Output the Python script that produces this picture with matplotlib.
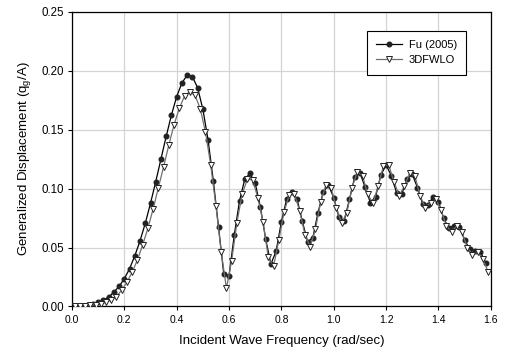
import numpy as np
import matplotlib
matplotlib.use('Agg')
import matplotlib.pyplot as plt
from matplotlib.ticker import FormatStrFormatter

plt.rcParams['font.family'] = ['Liberation Sans', 'DejaVu Sans']

# Fu (2005) - frequences paires
freq_fu = [0.02, 0.04, 0.06, 0.08, 0.10, 0.12, 0.14, 0.16, 0.18, 0.20,
           0.22, 0.24, 0.26, 0.28, 0.30, 0.32, 0.34, 0.36, 0.38, 0.40,
           0.42, 0.44, 0.46, 0.48, 0.50, 0.52, 0.54, 0.56, 0.58, 0.60,
           0.62, 0.64, 0.66, 0.68, 0.70, 0.72, 0.74, 0.76, 0.78, 0.80,
           0.82, 0.84, 0.86, 0.88, 0.90, 0.92, 0.94, 0.96, 0.98, 1.00,
           1.02, 1.04, 1.06, 1.08, 1.10, 1.12, 1.14, 1.16, 1.18, 1.20,
           1.22, 1.24, 1.26, 1.28, 1.30, 1.32, 1.34, 1.36, 1.38, 1.40,
           1.42, 1.44, 1.46, 1.48, 1.50, 1.52, 1.54, 1.56, 1.58]
disp_fu = [0.0005, 0.0008, 0.0012, 0.0022, 0.0036, 0.0055, 0.0080, 0.0122, 0.0170, 0.0236,
           0.0320, 0.0430, 0.0557, 0.0706, 0.0876, 0.1059, 0.1252, 0.1444, 0.1625, 0.1781,
           0.1897, 0.1962, 0.1950, 0.1855, 0.1674, 0.1411, 0.1066, 0.0672, 0.0273, 0.0259,
           0.0606, 0.0895, 0.1079, 0.1130, 0.1045, 0.0841, 0.0570, 0.0360, 0.0470, 0.0719,
           0.0909, 0.0974, 0.0909, 0.0722, 0.0550, 0.0582, 0.0796, 0.0974, 0.1028, 0.0923,
           0.0757, 0.0728, 0.0909, 0.1096, 0.1135, 0.1011, 0.0881, 0.0932, 0.1115, 0.1200,
           0.1110, 0.0966, 0.0954, 0.1079, 0.1121, 0.1008, 0.0869, 0.0861, 0.0932, 0.0889,
           0.0748, 0.0663, 0.0683, 0.0677, 0.0564, 0.0485, 0.0474, 0.0465, 0.0372]

# 3DFWLO - frequences impaires
freq_3d = [0.01, 0.03, 0.05, 0.07, 0.09, 0.11, 0.13, 0.15, 0.17, 0.19,
           0.21, 0.23, 0.25, 0.27, 0.29, 0.31, 0.33, 0.35, 0.37, 0.39,
           0.41, 0.43, 0.45, 0.47, 0.49, 0.51, 0.53, 0.55, 0.57, 0.59,
           0.61, 0.63, 0.65, 0.67, 0.69, 0.71, 0.73, 0.75, 0.77, 0.79,
           0.81, 0.83, 0.85, 0.87, 0.89, 0.91, 0.93, 0.95, 0.97, 0.99,
           1.01, 1.03, 1.05, 1.07, 1.09, 1.11, 1.13, 1.15, 1.17, 1.19,
           1.21, 1.23, 1.25, 1.27, 1.29, 1.31, 1.33, 1.35, 1.37, 1.39,
           1.41, 1.43, 1.45, 1.47, 1.49, 1.51, 1.53, 1.55, 1.57, 1.59]
disp_3d = [0.0002, 0.0004, 0.0006, 0.0010, 0.0016, 0.0025, 0.0037, 0.0055, 0.0083, 0.0140,
           0.0205, 0.0293, 0.0394, 0.0522, 0.0663, 0.0827, 0.1008, 0.1186, 0.1370, 0.1543,
           0.1681, 0.1786, 0.1822, 0.1792, 0.1678, 0.1480, 0.1200, 0.0852, 0.0465, 0.0154,
           0.0389, 0.0711, 0.0952, 0.1079, 0.1073, 0.0923, 0.0719, 0.0417, 0.0340, 0.0560,
           0.0800, 0.0946, 0.0952, 0.0810, 0.0610, 0.0507, 0.0657, 0.0884, 0.1031, 0.1003,
           0.0838, 0.0706, 0.0796, 0.1008, 0.1143, 0.1107, 0.0952, 0.0875, 0.1025, 0.1194,
           0.1200, 0.1059, 0.0940, 0.1022, 0.1130, 0.1107, 0.0937, 0.0838, 0.0881, 0.0909,
           0.0818, 0.0685, 0.0634, 0.0683, 0.0630, 0.0500, 0.0440, 0.0465, 0.0400, 0.0295]

xticks = [0.0, 0.2, 0.4, 0.6, 0.8, 1.0, 1.2, 1.4, 1.6]
yticks = [0.00, 0.05, 0.10, 0.15, 0.20, 0.25]

fig = plt.figure(figsize=(5.07, 3.58), dpi=100)
ax = fig.add_axes([0.142, 0.144, 0.826, 0.823])

ax.plot(freq_fu, disp_fu, color='black', lw=0.9, marker='o', markersize=3.3,
        markerfacecolor='#222222', markeredgecolor='#222222', label='Fu (2005)', zorder=3)
ax.plot(freq_3d, disp_3d, color='#707070', lw=0.9, marker='v', markersize=3.8,
        markerfacecolor='white', markeredgecolor='#222222', markeredgewidth=0.7,
        label='3DFWLO', zorder=4)

ax.set_xlim(0, 1.6)
ax.set_ylim(0, 0.25)
ax.set_xticks(xticks)
ax.set_yticks(yticks)
ax.xaxis.set_major_formatter(FormatStrFormatter('%.1f'))
ax.yaxis.set_major_formatter(FormatStrFormatter('%.2f'))
ax.grid(True, color='#d4d4d4', lw=0.9)
ax.set_axisbelow(True)
ax.tick_params(direction='out', length=3, width=0.8, colors='black', pad=3)
ax.tick_params(axis='x', labelsize=7.5)
ax.tick_params(axis='y', labelsize=8.3)
for s in ax.spines.values():
    s.set_linewidth(0.9)
    s.set_color('black')

ax.set_xlabel('Incident Wave Frequency (rad/sec)', fontsize=9.5, labelpad=7)
ax.set_ylabel('Generalized Displacement (q$_\\mathregular{g}$/A)', fontsize=9.5, labelpad=6)

leg = ax.legend(loc='upper right', bbox_to_anchor=(0.955, 0.955), fontsize=8,
                frameon=True, fancybox=False, edgecolor='black', framealpha=1,
                handlelength=2.3, borderpad=0.85, labelspacing=0.45, handletextpad=0.6)
leg.get_frame().set_linewidth(0.8)

plt.savefig('out.png', dpi=100)
